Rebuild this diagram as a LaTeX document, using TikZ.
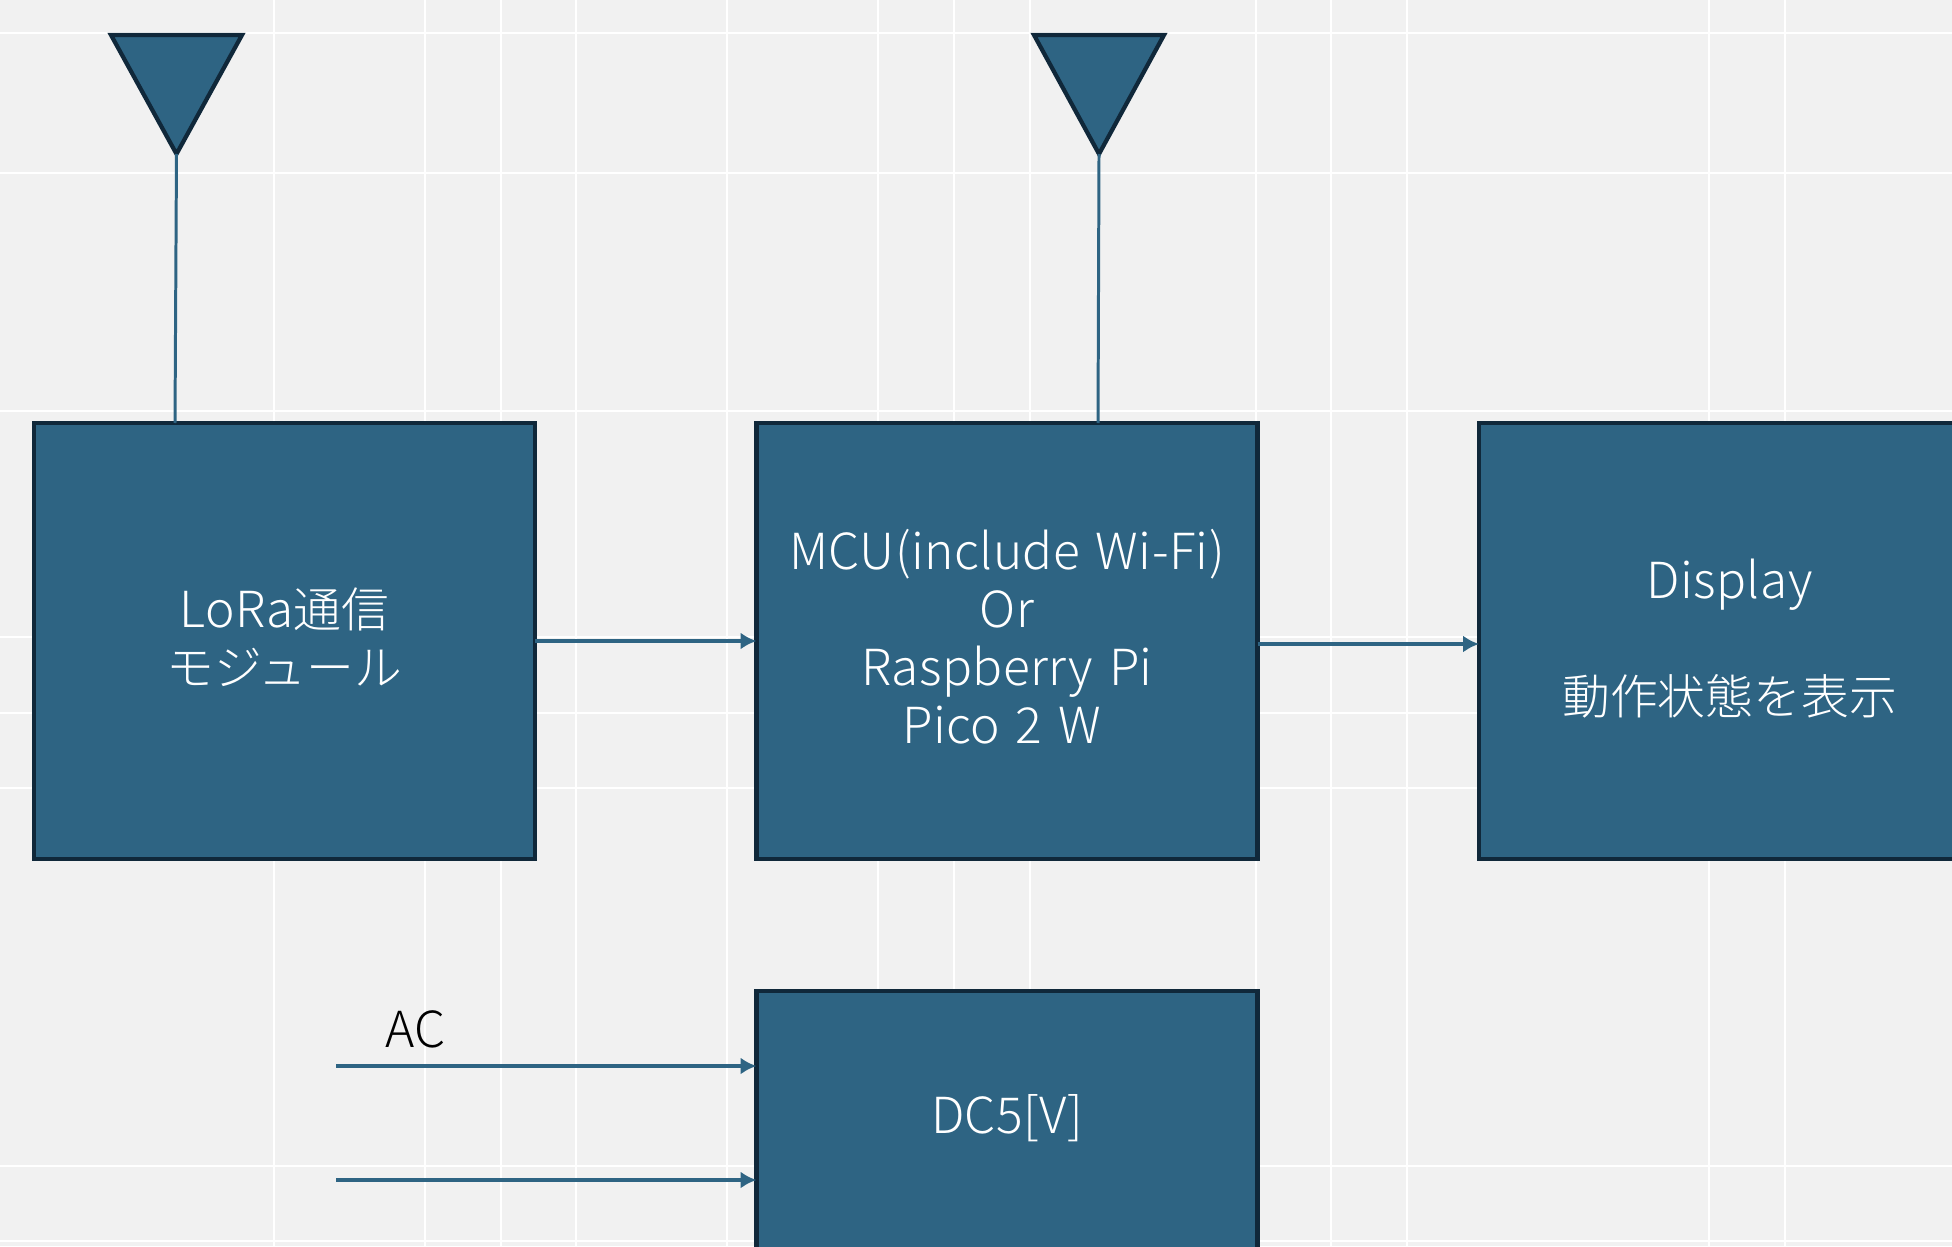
\documentclass[tikz,border=0pt]{standalone}
\usepackage{fontspec}
\setmainfont{Noto Sans CJK JP}[UprightFont=* Light]
\newfontfamily\latinfont{Noto Sans CJK JP}[UprightFont=* Light, Scale=1.04, WordSpace=1.4, LetterSpace=0.8]
\newcommand{\lat}[1]{{\latinfont #1}}
\usetikzlibrary{arrows.meta}

\definecolor{pagebg}{HTML}{F1F1F1}
\definecolor{blockfill}{HTML}{2E6483}
\definecolor{blockline}{HTML}{10283A}

\tikzset{
    gridline/.style={white, line width=0.8pt},
    block/.style={draw=blockline, fill=blockfill, line width=1.2pt, text=white,
        minimum width=5.01cm, minimum height=4.36cm, inner sep=0pt, outer sep=0pt,
        align=center, text depth=2.6pt,
        font=\fontsize{13.6pt}{16.5pt}\selectfont},
    antenna/.style={draw=blockline, fill=blockfill, line width=1.2pt, line join=miter},
    link/.style={draw=blockfill, line width=0.85pt},
    flow/.style={draw=blockfill, line width=1.1pt, -{Latex[length=4.5pt,width=4.8pt]}}
}

\begin{document}
\begin{tikzpicture}

\clip (0,0) rectangle (19.52,12.46);
\fill[pagebg] (0,0) rectangle (19.52,12.46);

% grid
\foreach \gx in {2.74,4.25,5.01,5.76,7.27,8.78,9.54,10.30,12.56,13.31,14.07,17.09,17.85}
    \draw[gridline] (\gx,0) -- (\gx,12.46);
\foreach \gy in {12.13,10.73,8.35,6.09,5.33,4.58,0.80,0.05}
    \draw[gridline] (0,\gy) -- (19.52,\gy);

% blocks
\node[block] (lora) at (2.845,6.05) {\lat{LoRa}通信\\モジュール};
\node[block] (mcu) at (10.07,6.05) {\lat{MCU(include Wi-Fi)}\\\lat{Or}\\\lat{Raspberry Pi}\\\lat{Pico 2 W}\hspace*{3pt}};
\node[block] (display) at (17.295,6.05) {\lat{Display}\\\\動作状態を表示};
\node[block, minimum height=2.58cm, text depth=3.2pt] (dc) at (10.07,1.26) {\lat{DC5[V]}};

% antennas
\draw[antenna] (1.11,12.11) -- (2.42,12.11) -- (1.765,10.92) coordinate (tipa) -- cycle;
\draw[antenna] (10.34,12.11) -- (11.64,12.11) -- (10.99,10.92) coordinate (tipb) -- cycle;
\draw[link] (tipa) -- (1.75,0 |- lora.north);
\draw[link] (tipb) -- (10.98,0 |- mcu.north);

% signal and power
\draw[flow] (lora.east |- 0,6.05) -- (mcu.west |- 0,6.05);
\draw[flow] (mcu.east |- 0,6.02) -- (display.west |- 0,6.02);

\coordinate (acone) at (3.36,1.80);
\coordinate (actwo) at (3.36,0.66);
\draw[flow] (acone) -- (dc.west |- acone);
\draw[flow] (actwo) -- (dc.west |- actwo);
\node[font=\fontsize{13.6pt}{16.5pt}\selectfont, black, anchor=base west, inner sep=0pt] (aclabel) at (3.85,1.99) {\lat{AC}};

\end{tikzpicture}
\end{document}
